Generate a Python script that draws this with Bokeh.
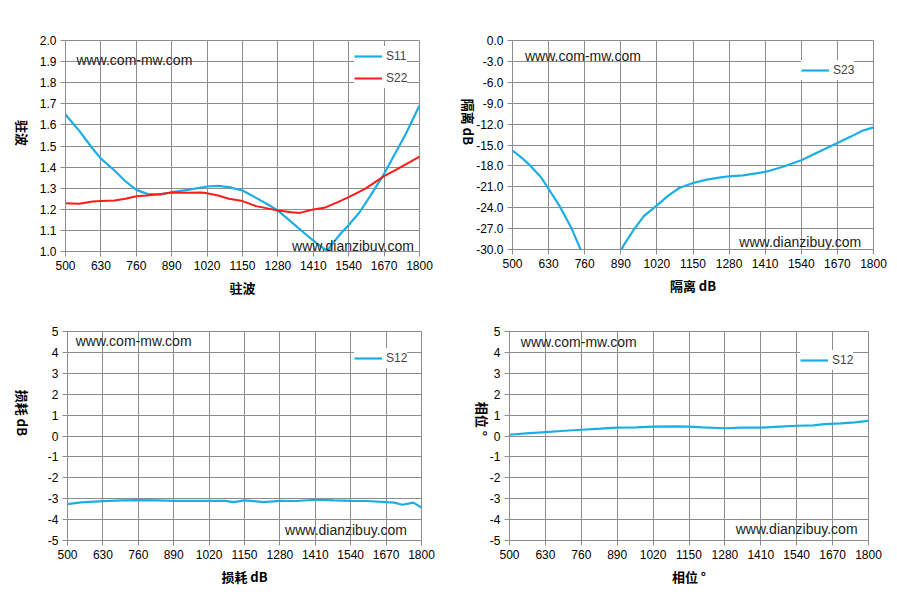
import math
from bokeh.plotting import figure
from bokeh.models import Range1d, FixedTicker, PrintfTickFormatter, Label, Legend, LegendItem
from bokeh.layouts import column, row
from bokeh.embed import file_html
from bokeh.resources import INLINE

# ---------------- data ----------------
x_ticks = [500, 630, 760, 890, 1020, 1150, 1280, 1410, 1540, 1670, 1800]

vswr_s11_f = [500, 550, 600, 630, 680, 720, 760, 800, 850, 890, 950, 1020, 1060, 1100, 1150, 1200,
              1250, 1280, 1330, 1380, 1410, 1450, 1462, 1480, 1510, 1540, 1580, 1620, 1670, 1700, 1750, 1800]
vswr_s11 = [1.649, 1.573, 1.487, 1.44, 1.384, 1.333, 1.292, 1.273, 1.27, 1.281, 1.292, 1.308, 1.311,
            1.305, 1.289, 1.254, 1.218, 1.194, 1.139, 1.084, 1.052, 1.013, 1.005, 1.036, 1.084, 1.126,
            1.186, 1.265, 1.368, 1.44, 1.558, 1.692]

vswr_s22_f = [500, 550, 600, 630, 680, 720, 760, 800, 850, 890, 950, 1000, 1020, 1060, 1100, 1150,
              1200, 1250, 1280, 1330, 1360, 1410, 1450, 1500, 1540, 1600, 1670, 1720, 1800]
vswr_s22 = [1.229, 1.226, 1.237, 1.239, 1.242, 1.25, 1.262, 1.265, 1.273, 1.28, 1.278, 1.28, 1.276,
            1.265, 1.25, 1.239, 1.215, 1.202, 1.194, 1.186, 1.183, 1.199, 1.207, 1.234, 1.258, 1.297,
            1.357, 1.392, 1.45]

iso_f = [500, 535, 565, 601, 630, 673, 713, 743, 746, 820, 893, 900, 937, 973, 1019, 1060, 1100,
         1150, 1200, 1250, 1280, 1330, 1410, 1480, 1540, 1600, 1670, 1720, 1760, 1800]
iso_s23 = [-15.8, -16.9, -18.0, -19.55, -21.3, -24.0, -27.0, -29.8, -30.0, float("nan"), -30.0,
           -29.4, -27.14, -25.2, -23.7, -22.3, -21.17, -20.45, -19.97, -19.64, -19.49, -19.35,
           -18.87, -18.06, -17.2, -16.05, -14.72, -13.76, -12.95, -12.47]

loss_f = [500, 550, 630, 700, 760, 830, 890, 960, 1020, 1080, 1110, 1150, 1220, 1280, 1340, 1410,
          1480, 1540, 1600, 1670, 1700, 1730, 1770, 1800]
loss_s12 = [-3.26, -3.18, -3.12, -3.08, -3.07, -3.08, -3.1, -3.1, -3.1, -3.1, -3.16, -3.08, -3.16,
            -3.1, -3.11, -3.05, -3.08, -3.1, -3.11, -3.16, -3.19, -3.29, -3.19, -3.42]

phase_f = [500, 560, 630, 700, 760, 830, 890, 960, 1020, 1100, 1150, 1200, 1280, 1340, 1410, 1480,
           1540, 1600, 1640, 1700, 1750, 1800]
phase_s12 = [0.06, 0.13, 0.19, 0.25, 0.3, 0.35, 0.4, 0.41, 0.45, 0.46, 0.45, 0.41, 0.37, 0.4, 0.4,
             0.45, 0.49, 0.51, 0.57, 0.6, 0.65, 0.72]

BLUE = "#1BAEE6"
RED = "#FF1A1A"
GRID = "#8C8C8C"
TICK_FONT = "Liberation Sans"
CJK = "Noto Sans CJK SC"


def make_fig(fw, fh, bl, br, bt, bb, yr, yticks, yfmt, title, ystand):
    p = figure(frame_width=fw, frame_height=fh, output_backend="svg", toolbar_location=None,
               x_range=Range1d(500, 1800), y_range=Range1d(*yr),
               min_border_left=bl, min_border_right=br, min_border_top=bt, min_border_bottom=bb)
    p.background_fill_color = "white"
    p.border_fill_color = "white"
    p.outline_line_color = GRID
    p.outline_line_width = 1
    p.xaxis.ticker = FixedTicker(ticks=x_ticks)
    p.yaxis.ticker = FixedTicker(ticks=yticks)
    p.yaxis.formatter = PrintfTickFormatter(format=yfmt)
    for ax in (p.xaxis[0], p.yaxis[0]):
        ax.axis_line_color = GRID
        ax.major_tick_line_color = GRID
        ax.major_tick_out = 5
        ax.major_tick_in = 0
        ax.minor_tick_line_color = None
        ax.major_label_text_font = TICK_FONT
        ax.major_label_text_font_size = "12px"
        ax.major_label_text_color = "#000000"
        ax.axis_label = title
        ax.axis_label_text_font = CJK
        ax.axis_label_text_font_style = "bold"
        ax.axis_label_text_font_size = "13px"
        ax.axis_label_text_color = "#000000"
    p.xaxis.major_label_standoff = 4
    p.xaxis.axis_label_standoff = 5
    p.yaxis.major_label_standoff = 4
    p.yaxis.axis_label_standoff = ystand
    p.yaxis.axis_label_orientation = -math.pi / 2
    p.xgrid.grid_line_color = GRID
    p.ygrid.grid_line_color = GRID
    p.xgrid.grid_line_width = 1
    p.ygrid.grid_line_width = 1
    return p


def watermark(p, x1, y1, x2, y2):
    for (x, y, t) in ((x1, y1, "www.com-mw.com"), (x2, y2, "www.dianzibuy.com")):
        p.add_layout(Label(x=x, y=y, text=t, text_font=TICK_FONT, text_font_size="14px",
                           text_color="#222222", text_baseline="middle", text_align="left"))


def add_legend(p, items, loc, pad):
    leg = Legend(items=items, location=loc, padding=pad, spacing=2, margin=0,
                 glyph_width=28, glyph_height=20, label_height=20, label_standoff=4,
                 label_text_font=TICK_FONT, label_text_font_size="12px",
                 background_fill_color="white", background_fill_alpha=1.0,
                 border_line_color=None)
    p.add_layout(leg, "center")


# --- top-left: VSWR
p1 = make_fig(354, 211, 60, 27, 36, 60, (1.0, 2.0), [1.0 + 0.1 * i for i in range(11)], "%.1f",
              "驻波", 14)
r11 = p1.line(vswr_s11_f, vswr_s11, line_color=BLUE, line_width=2.2)
r22 = p1.line(vswr_s22_f, vswr_s22, line_color=RED, line_width=2)
watermark(p1, 540, 1.908, 1332, 1.024)
add_legend(p1, [LegendItem(label="S11", renderers=[r11]), LegendItem(label="S22", renderers=[r22])],
           (289, 163), 6)

# --- top-right: isolation
p2 = make_fig(361, 209, 61, 17, 40, 58, (-30.0, 0.0), [-3.0 * i for i in range(11)], "%.1f",
              "隔离 dB", 5)
r23 = p2.line(iso_f, iso_s23, line_color=BLUE, line_width=2.2)
watermark(p2, 545, -2.19, 1317, -28.95)
add_legend(p2, [LegendItem(label="S23", renderers=[r23])], (289, 169), 5)

# --- bottom-left: loss
p3 = make_fig(354, 209, 61, 26, 24, 52, (-5, 5), list(range(-5, 6)), "%d", "损耗 dB", 22)
r12a = p3.line(loss_f, loss_s12, line_color=BLUE, line_width=2.2)
watermark(p3, 530, 4.55, 1299, -4.51)
add_legend(p3, [LegendItem(label="S12", renderers=[r12a])], (287, 172), 5)

# --- bottom-right: phase
p4 = make_fig(359, 209, 62, 18, 24, 52, (-5, 5), list(range(-5, 6)), "%d", "相位 °", 4)
r12b = p4.line(phase_f, phase_s12, line_color=BLUE, line_width=2.2)
watermark(p4, 541, 4.52, 1319, -4.47)
add_legend(p4, [LegendItem(label="S12", renderers=[r12b])], (291, 170), 5)

layout = column(row(p1, p2, spacing=0), row(p3, p4, spacing=0), spacing=0)
open("out.html", "w").write(file_html(layout, INLINE))
